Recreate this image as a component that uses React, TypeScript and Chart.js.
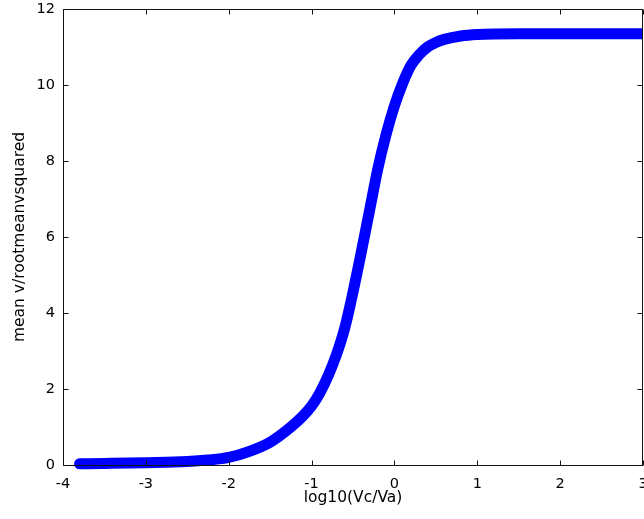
import React, { useEffect, useRef } from "react";
import { Chart, registerables } from "chart.js";

Chart.register(...registerables);

const xValues = [-3.8, -3.5, -3.0, -2.5, -2.25, -2.0, -1.75, -1.5, -1.25, -1.1, -1.0, -0.9, -0.8, -0.7, -0.6, -0.5, -0.4, -0.3, -0.2, -0.1, 0.0, 0.1, 0.2, 0.3, 0.4, 0.5, 0.6, 0.8, 1.0, 1.5, 2.0, 2.5, 3.0];
const yValues = [0.03, 0.04, 0.06, 0.09, 0.13, 0.2, 0.36, 0.6, 1.0, 1.3, 1.55, 1.9, 2.35, 2.9, 3.6, 4.55, 5.6, 6.7, 7.8, 8.7, 9.45, 10.05, 10.52, 10.8, 11.0, 11.12, 11.2, 11.29, 11.33, 11.35, 11.35, 11.35, 11.35];

const xTicks = [-4, -3, -2, -1, 0, 1, 2, 3];
const yTicks = [0, 2, 4, 6, 8, 10, 12];

const xLabel = "log10(Vc/Va)";
const yLabel = "mean v/rootmeanvsquared";

const FONT = "'DejaVu Sans', sans-serif";

const framePlugin = {
  id: "matlabFrame",
  afterDatasetsDraw(chart: any) {
    const { ctx, chartArea, scales } = chart;
    const { left, right, top, bottom } = chartArea;
    const t = 5;
    ctx.save();
    ctx.strokeStyle = "#111";
    ctx.lineWidth = 1;
    ctx.beginPath();
    const l = Math.round(left) + 0.5;
    const r = Math.round(right) - 0.5;
    const tp = Math.round(top) + 0.5;
    const b = Math.round(bottom) + 0.5;
    ctx.rect(l, tp, r - l, b - tp);
    for (const v of xTicks) {
      const px = Math.round(scales.x.getPixelForValue(v)) + 0.5;
      ctx.moveTo(px, b);
      ctx.lineTo(px, b - t);
      ctx.moveTo(px, tp);
      ctx.lineTo(px, tp + t);
    }
    for (const v of yTicks) {
      const py = Math.round(scales.y.getPixelForValue(v)) + 0.5;
      ctx.moveTo(l, py);
      ctx.lineTo(l + t, py);
      ctx.moveTo(r, py);
      ctx.lineTo(r - t, py);
    }
    ctx.stroke();
    ctx.restore();
  },
};

const zeroPad = (s: any) => {
  s.paddingTop = 0;
  s.paddingBottom = 0;
  s.paddingLeft = 0;
  s.paddingRight = 0;
};

export default function App() {
  const ref = useRef<HTMLCanvasElement | null>(null);
  useEffect(() => {
    if (!ref.current) return;
    const data = xValues.map((x, i) => ({ x, y: yValues[i] }));
    const chart = new Chart(ref.current, {
      type: "line",
      data: {
        datasets: [
          {
            data,
            borderColor: "#0000ff",
            backgroundColor: "#0000ff",
            borderWidth: 11,
            borderCapStyle: "round",
            borderJoinStyle: "round",
            pointRadius: 0,
            cubicInterpolationMode: "monotone",
            fill: false,
            clip: { left: 8, top: 8, bottom: 8, right: 0 },
          } as any,
        ],
      },
      options: {
        responsive: false,
        animation: false,
        events: [],
        layout: { padding: { top: 9, right: 1, bottom: 0, left: 0 }, autoPadding: false } as any,
        plugins: { legend: { display: false }, tooltip: { enabled: false } },
        scales: {
          x: {
            type: "linear",
            min: -4,
            max: 3,
            afterBuildTicks: (s: any) => {
              s.ticks = xTicks.map((v) => ({ value: v }));
            },
            grid: { display: false, drawTicks: false },
            border: { display: false },
            ticks: { color: "#000", font: { family: FONT, size: 14.5 }, padding: 11, maxRotation: 0, autoSkip: false },
            title: { display: true, text: xLabel, color: "#000", font: { family: FONT, size: 15.5 }, padding: { top: 0, bottom: 12 } },
            afterFit: (s: any) => {
              s.height = 54;
              zeroPad(s);
            },
          },
          y: {
            type: "linear",
            min: 0,
            max: 12,
            afterBuildTicks: (s: any) => {
              s.ticks = yTicks.map((v) => ({ value: v }));
            },
            grid: { display: false, drawTicks: false },
            border: { display: false },
            ticks: { color: "#000", font: { family: FONT, size: 14.5 }, padding: 8, autoSkip: false },
            title: { display: true, text: yLabel, color: "#000", font: { family: FONT, size: 15.5 }, padding: { top: 11, bottom: 0 } },
            afterFit: (s: any) => {
              s.width = 63;
              zeroPad(s);
            },
          },
        },
      },
      plugins: [framePlugin],
    });
    return () => chart.destroy();
  }, []);
  return (
    <div style={{ position: "absolute", left: 0, top: 0, width: 644, height: 519, background: "#fff" }}>
      <canvas ref={ref} width={644} height={519} style={{ display: "block" }} />
    </div>
  );
}
